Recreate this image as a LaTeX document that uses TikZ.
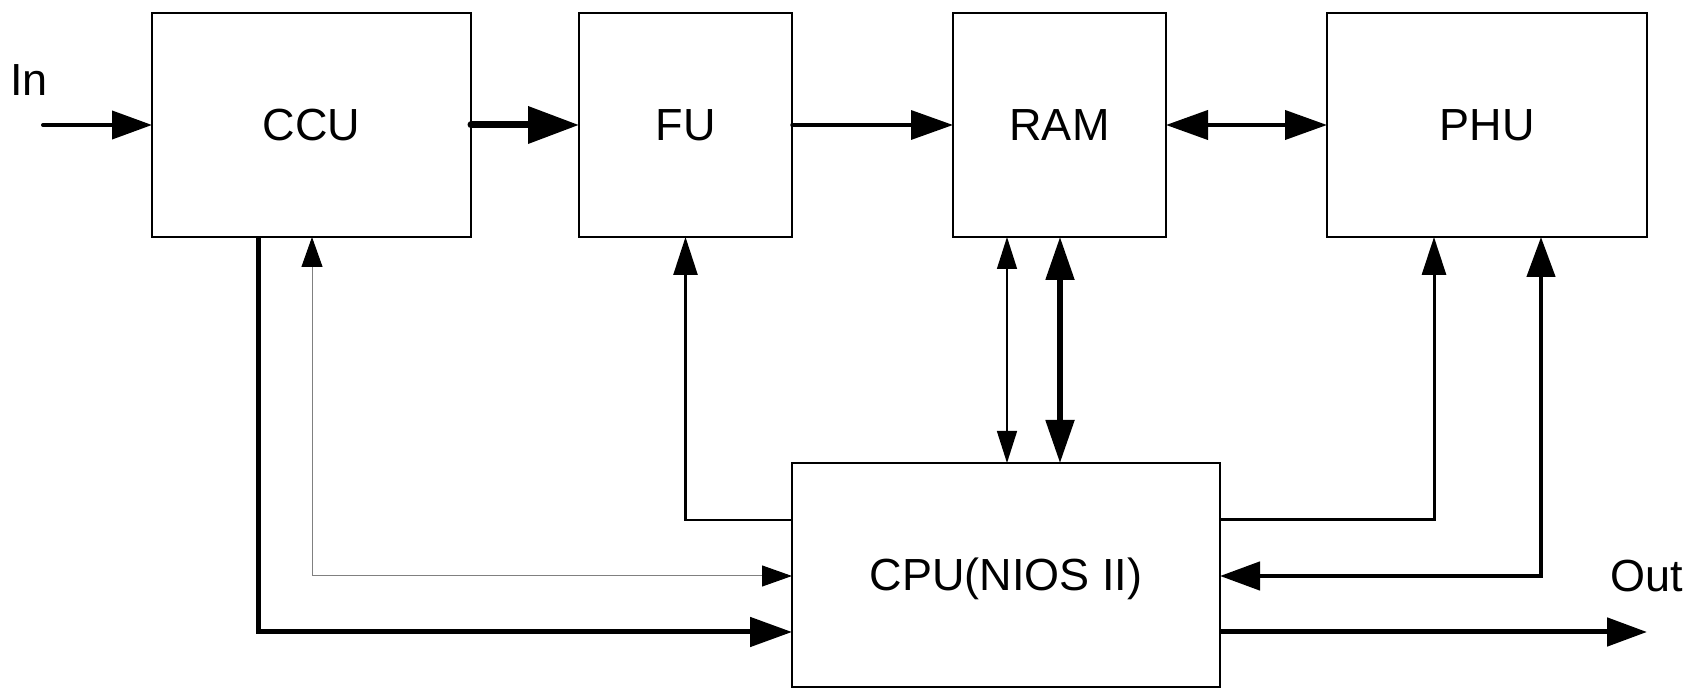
\documentclass[tikz,border=0pt]{standalone}
\usepackage{fontspec}
\setmainfont{Liberation Sans}
\usetikzlibrary{arrows.meta}
\definecolor{linegray}{RGB}{128,128,128}
\begin{document}
\begin{tikzpicture}[x=0.5pt,y=-0.5pt,
  box/.style={draw=black, line width=1.25pt, outer sep=0pt, inner sep=0pt,
    minimum height=112pt, text height=16pt, text depth=0pt,
    font=\fontsize{22.5}{27}\selectfont},
  lbl/.style={inner sep=0pt, anchor=base, font=\fontsize{22.5}{27}\selectfont},
  tipA/.tip={Triangle[length=20pt,width=14pt]},
  tipB/.tip={Triangle[length=25.5pt,width=18pt]},
  tipC/.tip={Triangle[length=21pt,width=14.5pt]},
  tipD/.tip={Triangle[length=15pt,width=10.5pt,color=black]},
  tipE/.tip={Triangle[length=19pt,width=12pt]},
  tipF/.tip={Triangle[length=16pt,width=10pt]},
  tipG/.tip={Triangle[length=21.5pt,width=14pt]}
]
\useasboundingbox (0,0) rectangle (1688,688);

\node[box, minimum width=159.5pt] (CCU) at (311.5,125) {CCU};
\node[box, minimum width=106.5pt] (FU)  at (685.5,125) {FU};
\node[box, minimum width=106.5pt] (RAM) at (1059.5,125) {RAM};
\node[box, minimum width=160pt]   (PHU) at (1487,125) {PHU};
\node[box, minimum width=214pt]   (CPU) at (1006,575) {CPU(NIOS II)};

\node[lbl] (inlbl) at (29,96) {In};
\node[lbl] (outlbl) at (1647,592) {Out};

% input
\coordinate (inS) at (43,125);
\draw[line width=2pt, line cap=round, -tipA] (inS) -- (CCU.west);

% top row
\draw[line width=3.5pt, line cap=round, -tipB] (CCU.east) -- (FU.west);
\draw[line width=1.75pt, line cap=round, -tipC] (FU.east) -- (RAM.west);
\draw[line width=2pt, tipC-tipC] (RAM.east) -- (PHU.west);

% CCU -> CPU thick
\coordinate (c1) at (258,632);
\draw[line width=2.5pt, -tipC] (c1 |- CCU.south) -- (c1) -- (CPU.west |- c1);

% gray CPU <-> CCU
\coordinate (c2) at (312,576);
\draw[linegray, line width=0.5pt, tipD-tipD] (c2 |- CCU.south) -- (c2) -- (CPU.west |- c2);

% CPU -> FU
\coordinate (c3) at (685.5,520);
\draw[line width=1.25pt, -tipE] (CPU.west |- c3) -- (c3) -- (FU.south);

% RAM <-> CPU
\coordinate (r1) at (1007,350);
\coordinate (r2) at (1060,350);
\draw[line width=0.75pt, tipF-tipF] (r1 |- RAM.south) -- (r1 |- CPU.north);
\draw[line width=2.6pt, tipG-tipG] (r2 |- RAM.south) -- (r2 |- CPU.north);

% CPU -> PHU thin
\coordinate (c4) at (1434,520);
\draw[line width=1.5pt, -tipE] (CPU.east |- c4) -- (c4) -- (c4 |- PHU.south);

% PHU <-> CPU thick
\coordinate (c5) at (1541,576);
\draw[line width=2.3pt, tipA-tipA] (c5 |- PHU.south) -- (c5) -- (CPU.east |- c5);

% out
\coordinate (outE) at (1647,632);
\draw[line width=2.5pt, -tipA] (CPU.east |- outE) -- (outE);
\end{tikzpicture}
\end{document}
